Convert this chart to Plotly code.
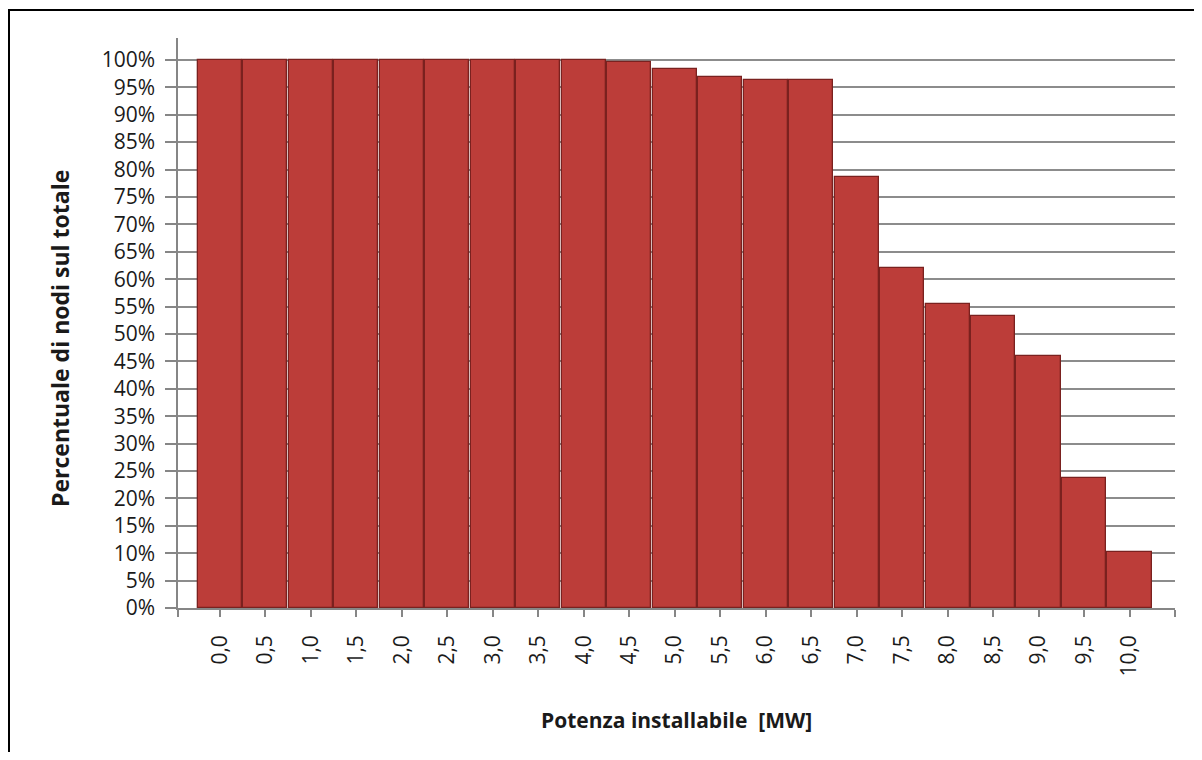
import plotly.graph_objects as go

categories = ["0,0", "0,5", "1,0", "1,5", "2,0", "2,5", "3,0", "3,5", "4,0", "4,5",
              "5,0", "5,5", "6,0", "6,5", "7,0", "7,5", "8,0", "8,5", "9,0", "9,5", "10,0"]
percent_nodes = [1.000, 1.000, 1.000, 1.000, 1.000, 1.000, 1.000, 1.000, 1.000, 0.997,
                 0.983, 0.968, 0.964, 0.964, 0.786, 0.621, 0.555, 0.533, 0.460, 0.237, 0.102]
y_ticks = [i * 0.05 for i in range(21)]
y_ticktext = [f"{i * 5}%" for i in range(21)]

x_idx = list(range(len(categories)))
x_lo, x_hi = -0.92, 21.0

fig = go.Figure()
fig.add_trace(go.Bar(
    x=x_idx, y=percent_nodes,
    marker=dict(color="#BC3D39", line=dict(color="#7A211F", width=1.3)),
    width=0.97,
))

# page has an 8px body margin; figure coordinates = page - 8
OFF = 8
W, H = 1186, 744
L, R, T, B = 178 - OFF, 1175 - OFF, 38 - OFF, 608 - OFF

def px_x(p):
    return (p - OFF - L) / (R - L)

def px_y(p):
    return (B - (p - OFF)) / (B - T)

fig.update_layout(
    width=W, height=H,
    margin=dict(l=L, r=W - R, t=T, b=H - B),
    paper_bgcolor="white", plot_bgcolor="white",
    showlegend=False,
    font=dict(family="Open Sans", color="#1a1a1a", size=21),
    bargap=0,
    xaxis=dict(
        range=[x_lo, x_hi],
        tickvals=[x_lo] + x_idx + [x_hi],
        ticktext=[""] + categories + [""],
        tickangle=-90,
        ticks="outside", ticklen=7, tickcolor="#868686", tickwidth=1.5,
        showline=True, linecolor="#868686", linewidth=1.5,
        showgrid=False, zeroline=False,
        ticklabelstandoff=10,
        tickfont=dict(size=21, family="Open Sans", color="#1a1a1a"),
    ),
    yaxis=dict(
        range=[0, 1.04],
        tickvals=y_ticks, ticktext=y_ticktext,
        ticks="outside", ticklen=11, tickcolor="#868686", tickwidth=1.5,
        showline=True, linecolor="#868686", linewidth=1.5,
        showgrid=True, gridcolor="#8C8C8C", gridwidth=1.5,
        zeroline=False,
        ticklabelstandoff=6,
        tickfont=dict(size=21, family="Open Sans", color="#1a1a1a"),
    ),
    annotations=[
        dict(text="<b>Potenza installabile  [MW]</b>", xref="paper", yref="paper",
             x=px_x(676), y=px_y(720), xanchor="center", yanchor="middle", showarrow=False,
             font=dict(size=21, family="Open Sans", color="#1a1a1a")),
        dict(text="<b>Percentuale di nodi sul totale</b>", xref="paper", yref="paper",
             x=px_x(60), y=px_y(339), xanchor="center", yanchor="middle",
             showarrow=False, textangle=-90,
             font=dict(size=23, family="Open Sans", color="#1a1a1a")),
    ],
    shapes=[
        dict(type="rect", xref="paper", yref="paper",
             x0=px_x(9), x1=px_x(1230), y0=px_y(790), y1=px_y(10),
             line=dict(color="black", width=2), fillcolor="rgba(0,0,0,0)", layer="below"),
    ],
)

fig.write_html("out.html")
